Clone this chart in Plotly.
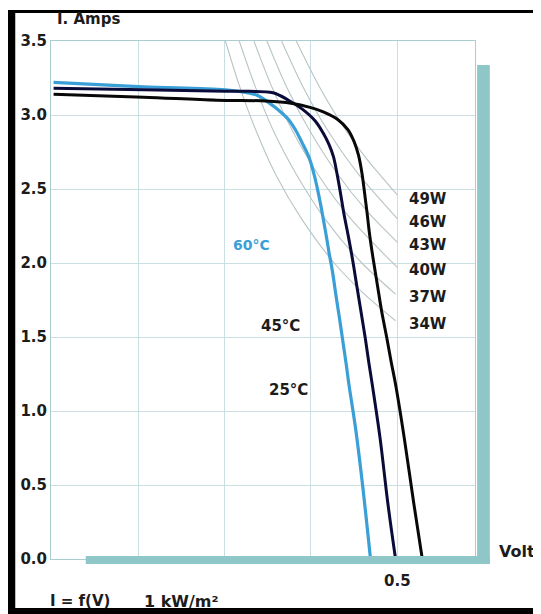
import plotly.graph_objects as go

# ---------------- data ----------------
# I-V curves: voltage per cell (V) and current (A)
v_25 = [0.102, 0.206, 0.291, 0.348, 0.377, 0.400, 0.415, 0.431, 0.443, 0.450, 0.455, 0.459, 0.462,
        0.465, 0.468, 0.472, 0.477, 0.482, 0.488, 0.493, 0.498, 0.508, 0.519, 0.529]
i_25 = [3.14, 3.12, 3.10, 3.095, 3.08, 3.05, 3.02, 2.97, 2.90, 2.82, 2.73, 2.61, 2.48,
        2.34, 2.19, 2.03, 1.85, 1.67, 1.49, 1.33, 1.18, 0.82, 0.38, 0.00]

v_45 = [0.102, 0.206, 0.301, 0.329, 0.356, 0.374, 0.390, 0.405, 0.414, 0.421, 0.426, 0.430, 0.434,
        0.438, 0.443, 0.448, 0.453, 0.458, 0.463, 0.467, 0.471, 0.480, 0.489, 0.498]
i_45 = [3.18, 3.17, 3.16, 3.16, 3.15, 3.10, 3.04, 2.96, 2.88, 2.80, 2.72, 2.61, 2.48,
        2.34, 2.19, 2.03, 1.85, 1.67, 1.49, 1.33, 1.18, 0.82, 0.38, 0.00]

v_60 = [0.102, 0.206, 0.301, 0.337, 0.352, 0.363, 0.374, 0.382, 0.390, 0.398, 0.404, 0.409,
        0.413, 0.417, 0.421, 0.425, 0.429, 0.433, 0.437, 0.441, 0.444, 0.452, 0.460, 0.469]
i_60 = [3.22, 3.19, 3.17, 3.135, 3.08, 3.03, 2.97, 2.90, 2.81, 2.71, 2.59, 2.46,
        2.34, 2.21, 2.07, 1.94, 1.78, 1.63, 1.47, 1.31, 1.18, 0.87, 0.49, 0.00]

temp_labels = ["25°C", "45°C", "60°C"]

# constant-power curves (module watts)
power_labels = ["49W", "46W", "43W", "40W", "37W", "34W"]
pw_v = [
    [0.383, 0.409, 0.440, 0.465, 0.500],
    [0.366, 0.390, 0.419, 0.455, 0.500],
    [0.349, 0.371, 0.398, 0.431, 0.465, 0.500],
    [0.334, 0.354, 0.378, 0.408, 0.446, 0.500],
    [0.317, 0.335, 0.356, 0.383, 0.416, 0.459, 0.498],
    [0.301, 0.317, 0.336, 0.359, 0.389, 0.427, 0.460, 0.498],
]
pw_i = [
    [3.50, 3.20, 2.90, 2.70, 2.46],
    [3.50, 3.20, 2.90, 2.60, 2.30],
    [3.50, 3.20, 2.90, 2.60, 2.35, 2.14],
    [3.50, 3.20, 2.90, 2.60, 2.30, 1.97],
    [3.50, 3.20, 2.90, 2.60, 2.30, 2.00, 1.79],
    [3.50, 3.20, 2.90, 2.60, 2.30, 2.00, 1.80, 1.61],
]
power_label_i = [2.43, 2.28, 2.12, 1.95, 1.77, 1.59]

y_ticks = [0.0, 0.5, 1.0, 1.5, 2.0, 2.5, 3.0, 3.5]
x_ticks = [0.5]
x_ticktext = ["0.5"]
x_grid = [0.2, 0.3, 0.4]

# ---------------- figure ----------------
FONT = "DejaVu Sans"
DARK = "#1c1c1c"
CYAN = "#3a9fd6"
NAVY = "#0b0b3a"
GRID = "#c9dfe2"
TEAL = "#8fc7c8"

fig = go.Figure()

for vv, ii in zip(pw_v, pw_i):
    fig.add_trace(go.Scatter(x=vv, y=ii, mode="lines", hoverinfo="skip",
                             line=dict(color="#b9c4c4", width=1.1, shape="spline", smoothing=0.8),
                             showlegend=False))

fig.add_trace(go.Scatter(x=v_60, y=i_60, mode="lines", name=temp_labels[2],
                         line=dict(color=CYAN, width=3.2, shape="spline", smoothing=1.0), showlegend=False))
fig.add_trace(go.Scatter(x=v_45, y=i_45, mode="lines", name=temp_labels[1],
                         line=dict(color=NAVY, width=3.0, shape="spline", smoothing=1.0), showlegend=False))
fig.add_trace(go.Scatter(x=v_25, y=i_25, mode="lines", name=temp_labels[0],
                         line=dict(color="#080808", width=3.0, shape="spline", smoothing=1.0), showlegend=False))

# power labels
for lab, yy in zip(power_labels, power_label_i):
    fig.add_annotation(x=0.5117, y=yy, text="<b>" + lab + "</b>", showarrow=False,
                       xanchor="left", yanchor="middle",
                       font=dict(family=FONT, size=15, color=DARK))

# temperature labels
fig.add_annotation(x=0.3312, y=2.12, text="<b>" + temp_labels[2] + "</b>", showarrow=False,
                   font=dict(family=FONT, size=14, color=CYAN))
fig.add_annotation(x=0.3645, y=1.574, text="<b>" + temp_labels[1] + "</b>", showarrow=False,
                   font=dict(family=FONT, size=15, color=DARK))
fig.add_annotation(x=0.3737, y=1.142, text="<b>" + temp_labels[0] + "</b>", showarrow=False,
                   font=dict(family=FONT, size=15, color=DARK))

# axis titles / notes (paper coords relative to plot area)
fig.add_annotation(xref="paper", yref="paper", x=0.0094, y=1.042, text="<b>I. Amps</b>",
                   showarrow=False, xanchor="left", yanchor="middle",
                   font=dict(family=FONT, size=15, color=DARK))
fig.add_annotation(xref="paper", yref="paper", x=1.052, y=0.0154, text="<b>Volt</b>",
                   showarrow=False, xanchor="left", yanchor="middle",
                   font=dict(family=FONT, size=16, color=DARK))
fig.add_annotation(xref="paper", yref="paper", x=-0.007, y=-0.082,
                   text="<b>I = f(V)</b>",
                   showarrow=False, xanchor="left", yanchor="middle",
                   font=dict(family=FONT, size=15, color=DARK))
fig.add_annotation(xref="paper", yref="paper", x=0.2155, y=-0.082,
                   text="<b>1 kW/m²</b>",
                   showarrow=False, xanchor="left", yanchor="middle",
                   font=dict(family=FONT, size=16, color=DARK))

shapes = [
    # teal shadow bars
    dict(type="rect", xref="paper", yref="paper", x0=0.082, x1=1.035, y0=-0.0097, y1=0.0058,
         fillcolor=TEAL, line=dict(width=0), layer="above"),
    dict(type="rect", xref="paper", yref="paper", x0=1.005, x1=1.035, y0=-0.0097, y1=0.9537,
         fillcolor=TEAL, line=dict(width=0), layer="above"),
    # black frame
    dict(type="rect", xref="paper", yref="paper", x0=-0.12, x1=1.20, y0=1.054, y1=1.0598,
         fillcolor="black", line=dict(width=0), layer="above"),
    dict(type="rect", xref="paper", yref="paper", x0=-0.12, x1=-0.0843, y0=-0.12, y1=1.0598,
         fillcolor="black", line=dict(width=0), layer="above"),
    dict(type="rect", xref="paper", yref="paper", x0=-0.12, x1=1.20, y0=-0.12, y1=-0.0946,
         fillcolor="black", line=dict(width=0), layer="above"),
]

fig.update_layout(
    width=533, height=606,
    margin=dict(l=40, r=66, t=33, b=55),
    paper_bgcolor="white", plot_bgcolor="white",
    shapes=shapes,
    showlegend=False,
    xaxis=dict(range=[0.099, 0.590], tickvals=x_ticks, ticktext=x_ticktext,
               showgrid=True, gridcolor=GRID, gridwidth=1, zeroline=False,
               minor=dict(tickvals=x_grid, showgrid=True, gridcolor=GRID, gridwidth=1, ticks=""),
               showline=True, linecolor="#a9cdd1", linewidth=1, mirror=True,
               ticks="", ticklabelstandoff=8,
               tickfont=dict(family=FONT, size=15, color=DARK, weight="bold"),
               fixedrange=True),
    yaxis=dict(range=[0, 3.5], tickvals=y_ticks, tickformat=".1f",
               showgrid=True, gridcolor=GRID, gridwidth=1, zeroline=False,
               showline=True, linecolor="#a9cdd1", linewidth=1, mirror=True,
               ticks="", ticklabelstandoff=0,
               tickfont=dict(family=FONT, size=15, color=DARK, weight="bold"),
               fixedrange=True),
)

fig.write_html("out.html", config={"displayModeBar": False})
